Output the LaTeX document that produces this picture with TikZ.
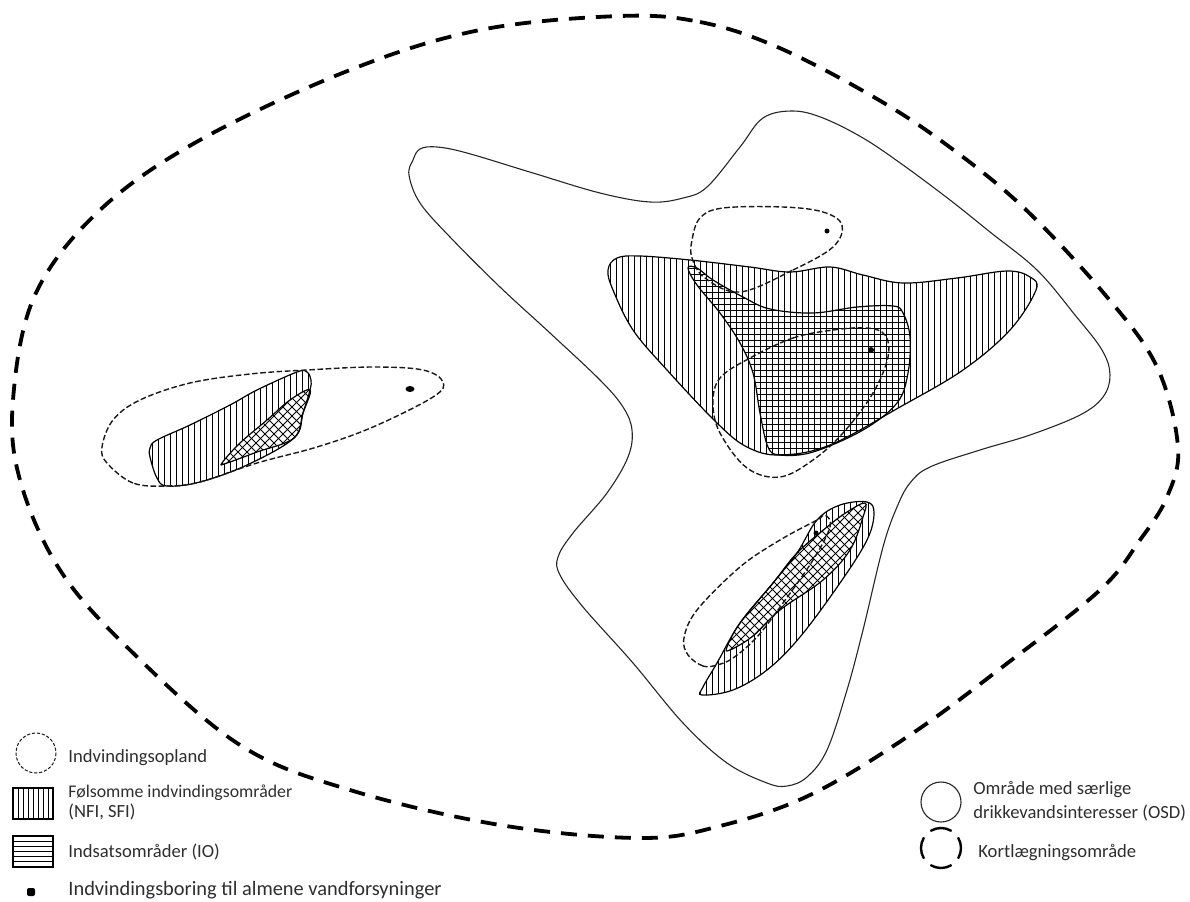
\documentclass[tikz,border=0pt]{standalone}
\usepackage{fontspec}
\setmainfont{Carlito}
\definecolor{legendtext}{HTML}{2E2E2E}
\tikzset{
  osdline/.style={line width=0.55pt,black!85},
  kortline/.style={line width=1.9pt,black,dash pattern=on 8pt off 5.5pt},
  oplandline/.style={line width=0.7pt,black!90,dash pattern=on 2.8pt off 1.3pt},
  hatchrim/.style={line width=0.6pt,black},
  hatchstroke/.style={line width=0.5pt,black},
  welldot/.style={fill=black,draw=none},
  legendlabel/.style={anchor=base west,inner sep=0pt,font=\fontsize{9.3pt}{11pt}\selectfont,text=legendtext},
  blobcurve/.style={smooth cycle,tension=0.6}
}
\newcommand{\vhatch}[5]{%
  \begin{scope}
    \clip plot[blobcurve] coordinates {#1};
    \foreach \hx in {#2,#3,...,#4} \draw[hatchstroke] (\hx,#5) -- ++(0,260);
  \end{scope}}
\newcommand{\hhatch}[5]{%
  \begin{scope}
    \clip plot[blobcurve] coordinates {#1};
    \foreach \hy in {#2,#3,...,#4} \draw[hatchstroke] (#5,\hy) -- ++(360,0);
  \end{scope}}
\newcommand{\dhatch}[6]{%
  \begin{scope}
    \clip plot[blobcurve] coordinates {#1};
    \fill[white] (0,0) rectangle (1190,901);
    \foreach \hx in {#2,#3,...,#4} {
      \draw[hatchstroke] (\hx,#5) -- ++(#6,#6);
      \draw[hatchstroke] (\hx,#5) -- ++(-#6,#6);
    }
  \end{scope}}
\begin{document}
\begin{tikzpicture}[x=0.5pt,y=-0.5pt]
\useasboundingbox (0,0) rectangle (1190,901);

% Kortlaegningsomraade
\draw[kortline] plot[blobcurve] coordinates {(620,16) (700,22) (775,46) (865,92) (940,140) (1023,207) (1107,297) (1157,367) (1178,447) (1167,497) (1140,540) (1100,590) (1005,665) (910,735) (810,795) (720,826) (640,838) (500,825) (350,790) (240,745) (130,650) (60,570) (20,480) (13,400) (35,295) (100,210) (200,140) (350,70) (480,30)};

% OSD
\draw[osdline] plot[blobcurve] coordinates {(420,149) (437,147) (467,153) (533,173) (600,193) (650,202) (683,198) (707,187) (740,147) (763,118) (793,111) (823,118) (863,138) (903,165) (950,200) (990,232) (1037,270) (1075,315) (1102,350) (1110,375) (1103,397) (1080,415) (1030,435) (980,450) (930,467) (910,483) (897,507) (883,547) (863,630) (847,690) (827,750) (807,777) (787,786) (767,783) (727,763) (683,723) (633,663) (583,607) (560,575) (558,557) (573,533) (607,493) (628,457) (632,430) (623,407) (600,380) (550,333) (500,287) (450,237) (420,203) (409,175) (413,160)};

% Large NFI / IO
\vhatch{(608,270) (617,258) (640,256) (690,260) (750,267) (790,272) (830,267) (863,275) (903,283) (957,278) (1007,271) (1030,277) (1036,290) (1010,330) (963,370) (900,407) (830,445) (780,455) (747,447) (717,423) (667,370) (633,330) (613,290)}{604.5}{610.5}{1040}{250}
\hhatch{(688,268) (697,268) (713,280) (743,297) (770,309) (813,313) (857,307) (893,306) (903,313) (910,337) (908,373) (897,403) (863,430) (813,452) (780,455) (768,447) (760,413) (753,373) (740,343) (720,313) (697,285)}{268.5}{274.5}{460}{680}
\draw[hatchrim] plot[blobcurve] coordinates {(608,270) (617,258) (640,256) (690,260) (750,267) (790,272) (830,267) (863,275) (903,283) (957,278) (1007,271) (1030,277) (1036,290) (1010,330) (963,370) (900,407) (830,445) (780,455) (747,447) (717,423) (667,370) (633,330) (613,290)};
\draw[hatchrim] plot[blobcurve] coordinates {(688,268) (697,268) (713,280) (743,297) (770,309) (813,313) (857,307) (893,306) (903,313) (910,337) (908,373) (897,403) (863,430) (813,452) (780,455) (768,447) (760,413) (753,373) (740,343) (720,313) (697,285)};
\draw[oplandline] plot[blobcurve] coordinates {(740,292) (793,270) (833,247) (842,225) (823,212) (783,207) (723,208) (700,218) (692,240) (692,258) (705,278)};
\draw[oplandline] plot[blobcurve] coordinates {(750,358) (793,338) (833,330) (867,328) (885,335) (888,357) (873,393) (843,433) (813,460) (780,477) (747,468) (720,433) (713,403) (720,378)};
\fill[welldot] (827,231) circle[radius=2.5];
\fill[welldot] (871,350) circle[radius=3];

% Lower right
\vhatch{(702,695) (703,687) (717,663) (740,623) (773,583) (797,553) (817,520) (840,505) (867,502) (874,513) (867,540) (840,583) (800,637) (767,670) (733,690)}{700.5}{706.5}{880}{495}
\dhatch{(727,647) (740,623) (773,583) (797,553) (827,527) (847,512) (865,503) (863,517) (850,550) (823,580) (780,610) (753,636) (730,650)}{570}{579}{1030}{495}{160}
\draw[hatchrim] plot[blobcurve] coordinates {(702,695) (703,687) (717,663) (740,623) (773,583) (797,553) (817,520) (840,505) (867,502) (874,513) (867,540) (840,583) (800,637) (767,670) (733,690)};
\draw[hatchrim] plot[blobcurve] coordinates {(727,647) (740,623) (773,583) (797,553) (827,527) (847,512) (865,503) (863,517) (850,550) (823,580) (780,610) (753,636) (730,650)};
\draw[oplandline] plot[blobcurve] coordinates {(717,665) (703,666) (688,655) (684,638) (697,610) (740,567) (780,540) (817,520) (825,515) (830,527) (813,560) (783,603) (757,637) (733,658)};
\fill[welldot] (816,533) circle[radius=2.5];

% Left
\vhatch{(150,448) (157,440) (190,425) (230,405) (257,390) (297,372) (307,372) (311,380) (310,390) (303,413) (294,438) (247,465) (200,482) (167,486) (157,478) (150,457)}{146.5}{152.5}{316}{365}
\dhatch{(222,463) (240,443) (267,420) (290,400) (310,390) (303,413) (294,438) (257,452) (227,463)}{130}{139}{410}{380}{90}
\draw[hatchrim] plot[blobcurve] coordinates {(150,448) (157,440) (190,425) (230,405) (257,390) (297,372) (307,372) (311,380) (310,390) (303,413) (294,438) (247,465) (200,482) (167,486) (157,478) (150,457)};
\draw[hatchrim] plot[blobcurve] coordinates {(222,463) (240,443) (267,420) (290,400) (310,390) (303,413) (294,438) (257,452) (227,463)};
\draw[oplandline] plot[blobcurve] coordinates {(167,486) (133,483) (107,463) (102,447) (113,420) (140,400) (190,383) (250,374) (307,370) (373,367) (423,370) (443,382) (433,397) (373,427) (317,447) (257,463) (200,482)};
\fill[welldot] (410,389) ellipse[x radius=4.5,y radius=3];

% Legend, left
\draw[oplandline,line width=0.5pt,dash pattern=on 1.6pt off 0.9pt] (36,753) circle[radius=20];
\node[legendlabel] (opland) at (68,762) {Indvindingsopland};
\foreach \hx in {13.5,18.5,...,53.5} \draw[hatchstroke] (\hx,788) -- (\hx,819);
\draw[hatchrim] (13,788) rectangle (53,819);
\node[legendlabel,font=\fontsize{8.9pt}{11pt}\selectfont] (nfi1) at (68,797) {Følsomme indvindingsområder};
\node[legendlabel] (nfi2) at (68,817) {(NFI, SFI)};
\foreach \hy in {836.5,841.5,...,867.5} \draw[hatchstroke] (13,\hy) -- (53,\hy);
\draw[hatchrim] (13,836) rectangle (53,867);
\node[legendlabel] (io) at (68,857) {Indsatsområder (IO)};
\fill[welldot,rounded corners=1] (27,888) rectangle (35,896);
\node[legendlabel,font=\fontsize{10.2pt}{11pt}\selectfont] (boring) at (68,895.5) {Indvindingsboring til almene vandforsyninger};

% Legend, right
\draw[osdline] (941,802) circle[radius=20];
\node[legendlabel] (osd1) at (973,794) {Område med særlige};
\node[legendlabel] (osd2) at (973,818) {drikkevandsinteresser (OSD)};
\foreach \ang in {60,150,240,330}
  \draw[line width=1.2pt,black,line cap=round] (941,848) ++(\ang:20) arc[start angle=\ang,delta angle=60,radius=20];
\node[legendlabel] (kort) at (978,857) {Kortlægningsområde};
\end{tikzpicture}
\end{document}
